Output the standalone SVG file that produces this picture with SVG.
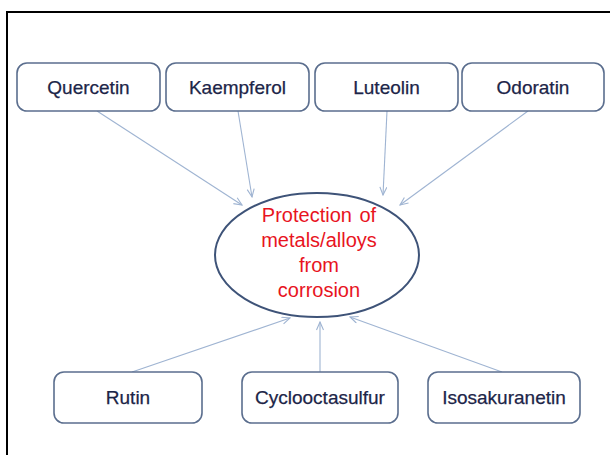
<svg xmlns="http://www.w3.org/2000/svg" width="610" height="455" viewBox="0 0 610 455">
<style>
.box{fill:#fff;stroke:#5b6e8e;stroke-width:1.6}
.lbl{font-family:"Liberation Sans",Arial,sans-serif;font-size:19px;fill:#1c2548;text-anchor:middle;stroke:#1c2548;stroke-width:0.25}
.conn{stroke:#9fb4d2;stroke-width:1.1;fill:none;marker-end:url(#ah)}
.center{font-family:"Liberation Sans",Arial,sans-serif;font-size:20px;fill:#e8141e;text-anchor:middle;word-spacing:2px}
</style>
<defs>
<marker id="ah" markerWidth="10" markerHeight="10" refX="9" refY="4" orient="auto" markerUnits="userSpaceOnUse">
<path d="M1,0.5 L9,4 L1,7.5" fill="none" stroke="#9fb4d2" stroke-width="1.1"/>
</marker>
</defs>
<rect width="610" height="455" fill="#fff"/>
<path d="M7,460 V12 H620" fill="none" stroke="#000" stroke-width="2"/>
<g id="connectors">
<line class="conn" x1="97" y1="111" x2="242" y2="205"/>
<line class="conn" x1="238" y1="111" x2="252" y2="197"/>
<line class="conn" x1="387" y1="111" x2="383" y2="195"/>
<line class="conn" x1="528" y1="111" x2="400" y2="205"/>
<line class="conn" x1="132" y1="372" x2="290" y2="318"/>
<line class="conn" x1="320" y1="372" x2="320" y2="322"/>
<line class="conn" x1="502" y1="372" x2="350" y2="317"/>
</g>
<g id="center">
<ellipse cx="317" cy="255" rx="102" ry="62" fill="#fff" stroke="#3e5378" stroke-width="2"/>
<text class="center" x="319" y="222">Protection of</text>
<text class="center" x="319" y="247">metals/alloys</text>
<text class="center" x="319" y="272">from</text>
<text class="center" x="319" y="297">corrosion</text>
</g>
<g id="quercetin"><rect class="box" x="17" y="63" width="143" height="48" rx="10"/><text class="lbl" x="88.5" y="94">Quercetin</text></g>
<g id="kaempferol"><rect class="box" x="166" y="63" width="143" height="48" rx="10"/><text class="lbl" x="237.5" y="94">Kaempferol</text></g>
<g id="luteolin"><rect class="box" x="315" y="63" width="143" height="48" rx="10"/><text class="lbl" x="386.5" y="94">Luteolin</text></g>
<g id="odoratin"><rect class="box" x="462" y="63" width="142" height="48" rx="10"/><text class="lbl" x="533" y="94">Odoratin</text></g>
<g id="rutin"><rect class="box" x="54" y="372" width="148" height="51" rx="10"/><text class="lbl" x="128" y="404">Rutin</text></g>
<g id="cyclooctasulfur"><rect class="box" x="242" y="372" width="156" height="51" rx="10"/><text class="lbl" x="320" y="404">Cyclooctasulfur</text></g>
<g id="isosakuranetin"><rect class="box" x="428" y="372" width="152" height="51" rx="10"/><text class="lbl" x="504" y="404">Isosakuranetin</text></g>
</svg>
